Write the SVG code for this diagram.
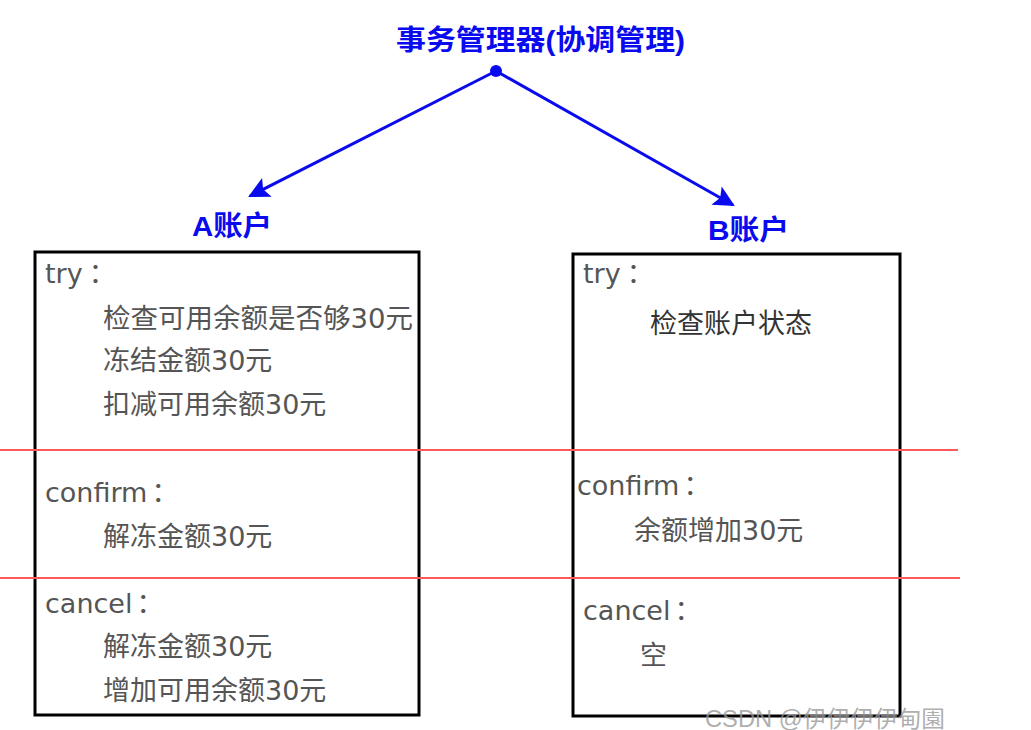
<svg xmlns="http://www.w3.org/2000/svg" width="1031" height="730" viewBox="0 0 1031 730">
<style>
.title{font-family:"Liberation Sans","Noto Sans CJK SC",sans-serif;font-weight:bold;fill:#0a0aee;}
.lbl{font-family:"DejaVu Sans","Noto Sans CJK SC",sans-serif;font-size:27px;fill:#555555;}
.box{fill:#ffffff;stroke:#000000;stroke-width:3;}
.sep{stroke:#ff5a5a;stroke-width:2;}
.conn{stroke:#0a0aee;stroke-width:3;fill:none;}
</style>
<defs>
<marker id="ah" viewBox="0 0 10 10" refX="9" refY="5" markerWidth="10" markerHeight="7" markerUnits="strokeWidth" orient="auto">
<path d="M0,0 L10,5 L0,10 L2,5 Z" fill="#0a0aee"/>
</marker>
</defs>
<rect width="1031" height="730" fill="#ffffff"/>
<g id="manager">
<text class="title" x="396" y="50" font-size="28" textLength="289" lengthAdjust="spacingAndGlyphs">事务管理器(协调管理)</text>
<circle cx="496" cy="71" r="6" fill="#0a0aee"/>
</g>
<g id="connectors">
<line class="conn" x1="496" y1="71" x2="250" y2="196" marker-end="url(#ah)"/>
<line class="conn" x1="496" y1="71" x2="733" y2="205" marker-end="url(#ah)"/>
</g>
<g id="accountA">
<text class="title" x="192" y="236" font-size="28" textLength="80" lengthAdjust="spacingAndGlyphs">A账户</text>
<rect class="box" x="35" y="252" width="384" height="463"/>
<text class="lbl" x="45" y="283">try<tspan dx="6">：</tspan></text>
<text class="lbl" x="103" y="328" textLength="310" lengthAdjust="spacingAndGlyphs">检查可用余额是否够30元</text>
<text class="lbl" x="103" y="370">冻结金额30元</text>
<text class="lbl" x="103" y="414">扣减可用余额30元</text>
<text class="lbl" x="45" y="502">confirm<tspan dx="4">：</tspan></text>
<text class="lbl" x="103" y="546">解冻金额30元</text>
<text class="lbl" x="45" y="613">cancel<tspan dx="4">：</tspan></text>
<text class="lbl" x="103" y="656">解冻金额30元</text>
<text class="lbl" x="103" y="700">增加可用余额30元</text>
</g>
<g id="accountB">
<text class="title" x="708" y="240" font-size="28" textLength="81" lengthAdjust="spacingAndGlyphs">B账户</text>
<rect class="box" x="573" y="254" width="327" height="462"/>
<text class="lbl" x="583" y="283">try<tspan dx="6">：</tspan></text>
<text class="lbl" x="650" y="333" style="fill:#333333">检查账户状态</text>
<text class="lbl" x="577" y="495">confirm<tspan dx="4">：</tspan></text>
<text class="lbl" x="634" y="540">余额增加30元</text>
<text class="lbl" x="583" y="620">cancel<tspan dx="4">：</tspan></text>
<text class="lbl" x="640" y="665">空</text>
</g>
<g id="separators">
<line class="sep" x1="0" y1="450" x2="958" y2="450"/>
<line class="sep" x1="0" y1="578" x2="960" y2="578"/>
</g>
<text x="705" y="727" font-family="Liberation Sans,Noto Sans CJK SC,sans-serif" font-size="23" fill="#999999" fill-opacity="0.8" textLength="240" lengthAdjust="spacingAndGlyphs">CSDN @伊伊伊伊甸園</text>
</svg>
